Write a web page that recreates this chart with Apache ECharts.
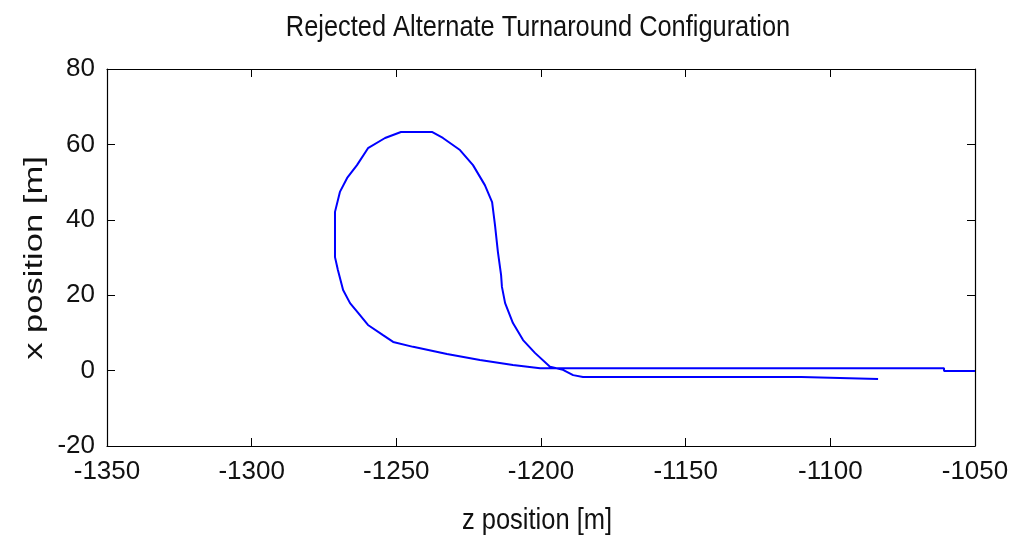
<!DOCTYPE html>
<html>
<head>
<meta charset="utf-8">
<script src="https://cdn.jsdelivr.net/npm/echarts@6/dist/echarts.min.js"></script>
<style>
html,body{margin:0;padding:0;background:#fff;overflow:hidden;}
#chart{width:1014px;height:540px;}
</style>
</head>
<body>
<div id="chart"></div>
<script>
var titleText = 'Rejected Alternate Turnaround Configuration';
var xName = 'z position [m]';
var yName = 'x position [m]';
var zRange = [-1350, -1050, 50];
var xRange = [-20, 80, 20];
// trajectory: z position (horizontal) and x position (vertical)
var zPos = [-1050, -1060.7, -1060.7, -1200.3, -1209.7, -1221.1, -1232.5, -1244.2, -1251.1, -1254.6,
  -1259.8, -1263.2, -1266.0, -1268.4, -1270.2, -1271.2, -1271.2, -1271.2, -1269.5, -1267.0,
  -1263.6, -1259.8, -1253.9, -1248.4, -1237.7, -1233.9, -1228.0, -1223.5, -1219.4, -1216.9,
  -1215.9, -1214.9, -1213.8, -1213.5, -1212.4, -1209.7, -1206.2, -1202.1, -1196.9, -1192.4,
  -1188.9, -1185.5, -1110, -1110, -1083.5];
var xPos = [-0.1, -0.1, 0.6, 0.6, 1.5, 2.8, 4.4, 6.3, 7.6, 9.4,
  12.1, 15.3, 17.9, 21.4, 26.7, 30.1, 33.3, 42.1, 47.4, 51.1,
  54.5, 59.0, 61.7, 63.3, 63.3, 61.7, 58.5, 54.5, 49.2, 44.7,
  38.6, 31.5, 25.4, 22.2, 17.9, 12.6, 8.1, 4.7, 1.0, 0.2,
  -1.2, -1.7, -1.7, -2.2, -2.2];

var sans = "'Liberation Sans', Arial, Helvetica, sans-serif";
var pts = zPos.map(function (z, i) { return [z, xPos[i]]; });

var chart = echarts.init(document.getElementById('chart'), null, {renderer: 'canvas', width: 1014, height: 540});
var axisLine = {show: true, onZero: false, lineStyle: {color: '#000', width: 1.2}};
var tick = {show: true, inside: true, length: 8, lineStyle: {color: '#000', width: 1}};
var plain = function (v) { return String(v); };
chart.setOption({
  backgroundColor: '#fff',
  animation: false,
  grid: {left: 107, right: 39, top: 69, bottom: 94, containLabel: false},
  xAxis: [{
    type: 'value', position: 'bottom', min: zRange[0], max: zRange[1], interval: zRange[2],
    axisLine: axisLine, axisTick: tick, splitLine: {show: false},
    axisLabel: {margin: 13, fontFamily: sans, fontSize: 26, color: '#111', formatter: plain}
  }, {
    type: 'value', position: 'top', min: zRange[0], max: zRange[1], interval: zRange[2],
    axisLine: axisLine, axisTick: tick, splitLine: {show: false}, axisLabel: {show: false}
  }],
  yAxis: [{
    type: 'value', position: 'left', min: xRange[0], max: xRange[1], interval: xRange[2],
    axisLine: axisLine, axisTick: tick, splitLine: {show: false},
    axisLabel: {margin: 12, fontFamily: sans, fontSize: 26, color: '#111', formatter: plain}
  }, {
    type: 'value', position: 'right', min: xRange[0], max: xRange[1], interval: xRange[2],
    axisLine: axisLine, axisTick: tick, splitLine: {show: false}, axisLabel: {show: false}
  }],
  graphic: [{
    type: 'text', x: 538, y: 28, scaleX: 1, scaleY: 1.15,
    style: {text: titleText, font: "25.4px " + sans, fill: '#111',
      textAlign: 'center', textVerticalAlign: 'middle'}
  }, {
    type: 'text', x: 537, y: 521, scaleX: 1, scaleY: 1.15,
    style: {text: xName, font: "25.5px " + sans, fill: '#111',
      textAlign: 'center', textVerticalAlign: 'middle'}
  }, {
    type: 'text', x: 35, y: 258, rotation: Math.PI / 2, scaleX: 1.33, scaleY: 1,
    style: {text: yName, font: "26px " + sans, fill: '#111',
      textAlign: 'center', textVerticalAlign: 'middle'}
  }],
  series: [{
    type: 'line', xAxisIndex: 0, yAxisIndex: 0, data: pts, showSymbol: false, smooth: false,
    lineStyle: {color: '#0000ff', width: 2}, itemStyle: {color: '#0000ff'}
  }]
});
</script>
</body>
</html>
